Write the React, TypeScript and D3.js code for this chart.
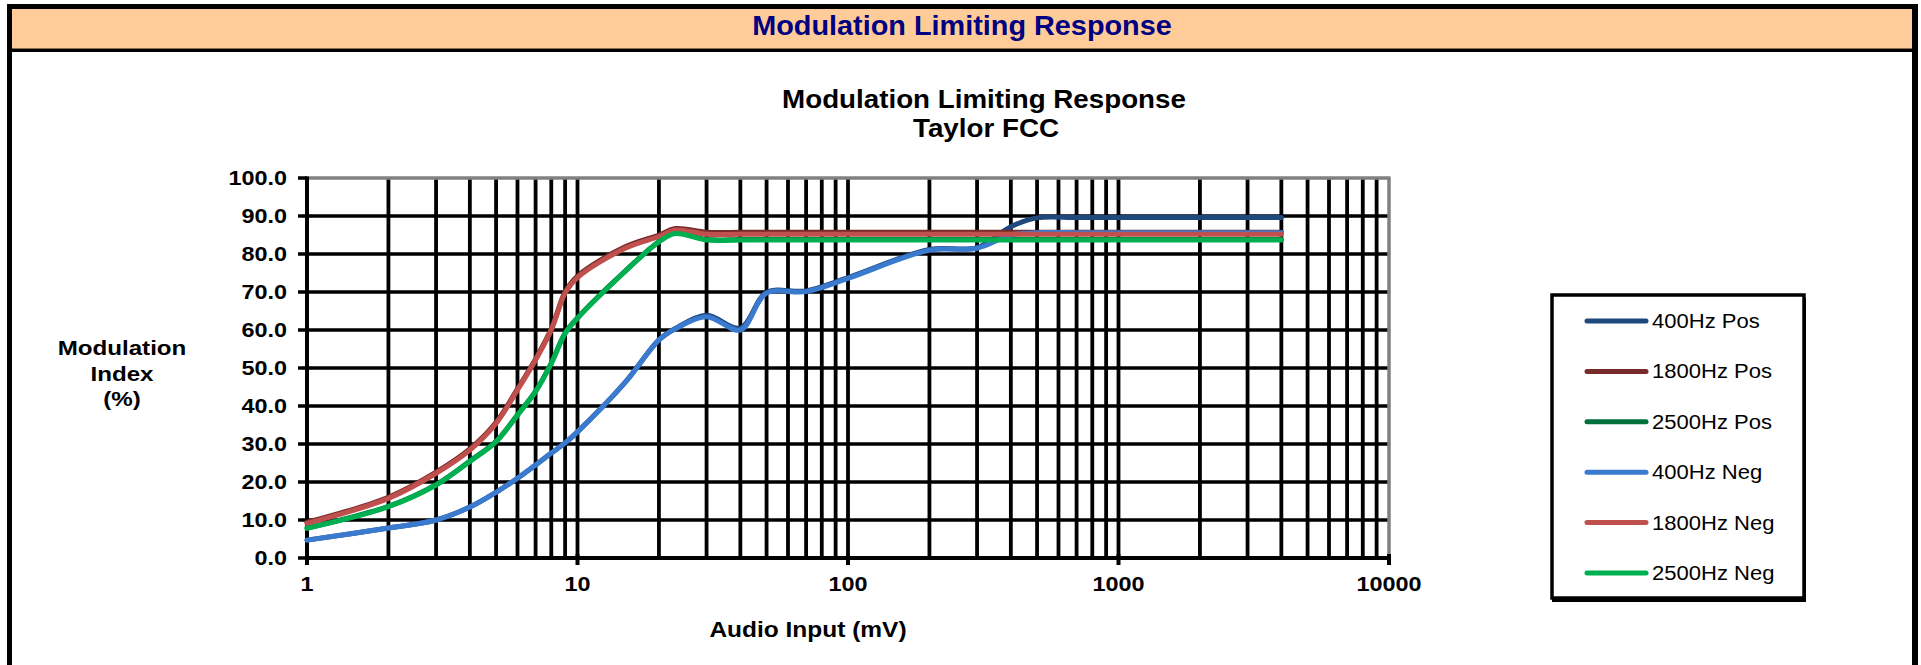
import React, { useEffect, useRef } from 'react';
import * as d3 from 'd3';

// audio input levels (mV) the readings were taken at
const inputMv = [1, 2, 3, 4, 5, 6, 7, 8, 9, 10, 15, 20, 23, 30, 40, 50, 70, 100, 200, 300, 400, 500, 700, 1000, 2000, 4000];

const pos400 = [4.7, 7.9, 10.0, 13.4, 17.3, 21.0, 24.5, 27.6, 30.3, 33.2, 46.2, 57.4, 60.4, 63.9, 60.5, 69.9, 70.3, 73.8, 81.2, 81.7, 87.2, 89.5, 89.6, 89.6, 89.6, 89.6];
const pos1800 = [9.4, 16.0, 22.6, 28.7, 35.7, 44.5, 52.4, 60.3, 70.0, 74.2, 81.9, 85.0, 86.7, 85.7, 85.7, 85.7, 85.7, 85.7, 85.7, 85.7, 85.7, 85.7, 85.7, 85.7, 85.7, 85.7];
const pos2500 = [7.9, 13.6, 19.3, 25.5, 30.7, 37.7, 43.9, 51.3, 59.2, 63.2, 75.5, 83.3, 85.5, 83.8, 83.8, 83.8, 83.8, 83.8, 83.8, 83.8, 83.8, 83.8, 83.8, 83.8, 83.8, 83.8];
const neg400 = [4.7, 7.9, 10.0, 13.4, 17.3, 21.0, 24.5, 27.6, 30.3, 33.2, 46.2, 57.4, 60.3, 63.5, 60.0, 69.7, 70.1, 73.6, 81.0, 81.5, 85.0, 85.6, 85.6, 85.6, 85.6, 85.6];
const neg1800 = [9.1, 15.7, 22.3, 28.4, 35.4, 44.2, 52.1, 60.0, 69.7, 73.8, 81.5, 84.6, 86.3, 85.2, 85.2, 85.2, 85.2, 85.2, 85.2, 85.2, 85.2, 85.2, 85.2, 85.2, 85.2, 85.2];
const neg2500 = [7.8, 13.5, 19.2, 25.4, 30.6, 37.6, 43.8, 51.2, 59.1, 63.1, 75.4, 83.2, 85.4, 83.7, 83.7, 83.7, 83.7, 83.7, 83.7, 83.7, 83.7, 83.7, 83.7, 83.7, 83.7, 83.7];

const seriesNames = ['400Hz Pos', '1800Hz Pos', '2500Hz Pos', '400Hz Neg', '1800Hz Neg', '2500Hz Neg'];
const seriesColors = ['#1F497D', '#772C2A', '#00703C', '#3A7BD0', '#C0504D', '#00B050'];

const yTicks = [0, 10, 20, 30, 40, 50, 60, 70, 80, 90, 100];
const xTickLabels = ['1', '10', '100', '1000', '10000'];

const FONT = "'Liberation Sans', Arial, sans-serif";

export default function App() {
  const svgRef = useRef<SVGSVGElement | null>(null);

  useEffect(() => {
    if (!svgRef.current) return;
    const width = 1921;
    const height = 665;
    const svg = d3.select(svgRef.current);
    svg.selectAll('*').remove();
    svg.attr('width', width).attr('height', height);

    const text = (
      parent: d3.Selection<any, any, any, any>,
      x: number, y: number, str: string,
      opts: { size: number; sx?: number; weight?: string; anchor?: string; fill?: string }
    ) =>
      parent.append('text')
        .attr('transform', `translate(${x},${y}) scale(${opts.sx ?? 1},1)`)
        .attr('text-anchor', opts.anchor ?? 'middle')
        .attr('font-family', FONT)
        .attr('font-size', opts.size)
        .attr('font-weight', opts.weight ?? 'bold')
        .attr('fill', opts.fill ?? '#000')
        .text(str);

    // page frame + header band
    svg.append('rect').attr('x', 0).attr('y', 0).attr('width', width).attr('height', height).attr('fill', '#fff');
    svg.append('rect').attr('x', 7).attr('y', 4).attr('width', 1911).attr('height', 700).attr('fill', '#000');
    svg.append('rect').attr('x', 12).attr('y', 9).attr('width', 1900).attr('height', 700).attr('fill', '#fff');
    svg.append('rect').attr('x', 12).attr('y', 9).attr('width', 1900).attr('height', 39).attr('fill', '#FFCC99');
    svg.append('rect').attr('x', 12).attr('y', 48).attr('width', 1900).attr('height', 1).attr('fill', '#8B6A4A');
    svg.append('rect').attr('x', 12).attr('y', 49).attr('width', 1900).attr('height', 3).attr('fill', '#000');
    text(svg, 962, 35, 'Modulation Limiting Response', { size: 28, sx: 1.03, fill: '#000080' });

    // chart titles
    text(svg, 984, 108, 'Modulation Limiting Response', { size: 25, sx: 1.11 });
    text(svg, 986, 137, 'Taylor FCC', { size: 25, sx: 1.11 });

    const left = 307, right = 1389, top = 178, bottom = 558;
    const x = d3.scaleLog().domain([1, 10000]).range([left, right]);
    const y = d3.scaleLinear().domain([0, 100]).range([bottom, top]);

    const grid = svg.append('g');
    // vertical log grid (minor + major)
    const vLines: number[] = [];
    for (let dec = 1; dec < 10000; dec *= 10) {
      for (let k = 1; k < 10; k++) vLines.push(dec * k);
    }
    grid.selectAll('line.v').data(vLines).enter().append('line')
      .attr('x1', d => x(d)).attr('x2', d => x(d))
      .attr('y1', top).attr('y2', bottom)
      .attr('stroke', '#000').attr('stroke-width', 3.8);
    grid.selectAll('line.h').data(yTicks.slice(1, -1)).enter().append('line')
      .attr('x1', left).attr('x2', right)
      .attr('y1', d => y(d)).attr('y2', d => y(d))
      .attr('stroke', '#000').attr('stroke-width', 3.5);
    // top / right border in gray
    grid.append('line').attr('x1', left).attr('x2', right + 1.5).attr('y1', top).attr('y2', top)
      .attr('stroke', '#808080').attr('stroke-width', 3.5);
    grid.append('line').attr('x1', right).attr('x2', right).attr('y1', top).attr('y2', bottom)
      .attr('stroke', '#808080').attr('stroke-width', 3.5);

    // y axis
    grid.append('line').attr('x1', left).attr('x2', left).attr('y1', top - 1.5).attr('y2', bottom + 1.5)
      .attr('stroke', '#000').attr('stroke-width', 4);
    grid.selectAll('line.yt').data(yTicks).enter().append('line')
      .attr('x1', left - 9).attr('x2', left)
      .attr('y1', d => y(d)).attr('y2', d => y(d))
      .attr('stroke', '#000').attr('stroke-width', 3.5);
    yTicks.forEach(t => text(svg, 287, y(t) + 7, t.toFixed(1), { size: 20, sx: 1.17, anchor: 'end' }));

    // x axis
    grid.append('line').attr('x1', left).attr('x2', right + 1.5).attr('y1', bottom).attr('y2', bottom)
      .attr('stroke', '#000').attr('stroke-width', 4);
    const majors = [1, 10, 100, 1000, 10000];
    grid.selectAll('line.xt').data(majors).enter().append('line')
      .attr('x1', d => x(d)).attr('x2', d => x(d))
      .attr('y1', bottom - 4).attr('y2', bottom + 7)
      .attr('stroke', '#000').attr('stroke-width', 4);
    majors.forEach((m, i) => text(svg, x(m), 591, xTickLabels[i], { size: 20, sx: 1.17 }));

    // axis titles
    text(svg, 122, 355, 'Modulation', { size: 21, sx: 1.15 });
    text(svg, 122, 380.5, 'Index', { size: 21, sx: 1.15 });
    text(svg, 122, 406, '(%)', { size: 21, sx: 1.15 });
    text(svg, 808, 637, 'Audio Input (mV)', { size: 21.3, sx: 1.15 });

    // series
    const allSeries = [pos400, pos1800, pos2500, neg400, neg1800, neg2500];
    const line = d3.line<number>()
      .x((_, i) => x(inputMv[i]))
      .y(d => y(d))
      .curve(d3.curveCatmullRom.alpha(0.5));
    svg.append('g').selectAll('path').data(allSeries).enter().append('path')
      .attr('d', d => line(d))
      .attr('fill', 'none')
      .attr('stroke', (_, i) => seriesColors[i])
      .attr('stroke-width', 5)
      .attr('stroke-linecap', 'round')
      .attr('stroke-linejoin', 'round');

    // legend
    const lg = svg.append('g');
    lg.append('rect').attr('x', 1552).attr('y', 298).attr('width', 254).attr('height', 304).attr('fill', '#000');
    lg.append('rect').attr('x', 1552).attr('y', 295).attr('width', 252).attr('height', 303)
      .attr('fill', '#fff').attr('stroke', '#000').attr('stroke-width', 3.5);
    const rowY = d3.scaleLinear().domain([0, seriesNames.length - 1]).range([321, 573]);
    seriesNames.forEach((name, i) => {
      lg.append('line').attr('x1', 1587).attr('x2', 1646)
        .attr('y1', rowY(i)).attr('y2', rowY(i))
        .attr('stroke', seriesColors[i]).attr('stroke-width', 5).attr('stroke-linecap', 'round');
      text(lg, 1652, rowY(i) + 7, name, { size: 19.5, sx: 1.13, anchor: 'start', weight: 'normal' });
    });
  }, []);

  return (
    <div style={{ position: 'absolute', left: 0, top: 0 }}>
      <svg ref={svgRef} style={{ display: 'block' }}></svg>
    </div>
  );
}
